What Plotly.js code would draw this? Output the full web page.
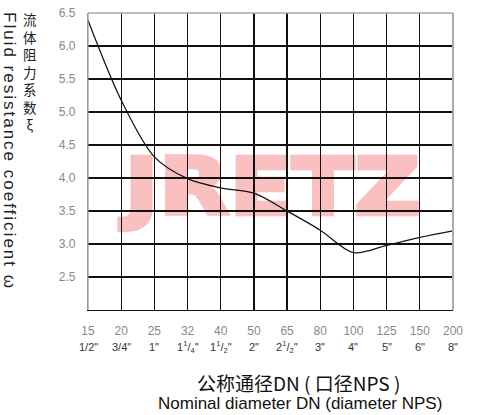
<!DOCTYPE html>
<html>
<head>
<meta charset="utf-8">
<script src="https://cdn.plot.ly/plotly-3.0.1.min.js"></script>
<style>
  html, body { margin: 0; padding: 0; background: #fff; }
  #wrap { position: relative; width: 486px; height: 415px; overflow: hidden; }
  #wm { position: absolute; left: 273px; top: 187px; transform: translate(-50%, -50%) scale(0.98, 0.86);
        font-family: "DejaVu Sans", sans-serif; font-weight: bold; font-size: 92px; line-height: 1;
        color: rgb(250,192,192); -webkit-text-stroke: 5px rgb(250,192,192);
        white-space: nowrap; letter-spacing: 1px; }
  #chart { position: absolute; left: 0; top: 0; width: 486px; height: 415px; }
</style>
</head>
<body>
<div id="wrap">
  <div id="wm">JRETZ</div>
  <div id="chart"></div>
</div>
<script>
// Categories (DN) and NPS labels
const dnLabels = ["15","20","25","32","40","50","65","80","100","125","150","200"];
const npsLabels = ["1/2\"","3/4\"","1\"","1<sup>1</sup>/<sub>4</sub>\"","1<sup>1</sup>/<sub>2</sub>\"","2\"","2<sup>1</sup>/<sub>2</sub>\"","3\"","4\"","5\"","6\"","8\""];
// Fluid resistance coefficient at each DN
const xi = [6.39, 5.18, 4.32, 3.99, 3.85, 3.77, 3.50, 3.21, 2.87, 2.98, 3.10, 3.20];
const yTicks = [2.5, 3.0, 3.5, 4.0, 4.5, 5.0, 5.5, 6.0, 6.5];
const yTitleZh = "流体阻力系数ξ";
const yTitleEn = "Fluid resistance coefficient ω";
const xTitleZh = "公称通径DN ( 口径NPS )";
const xTitleEn = "Nominal diameter DN (diameter NPS)";

const idx = dnLabels.map((_, i) => i);
const W = 486, H = 415, ML = 88, MR = 33, MT = 13, MB = 105;
const pw = W - ML - MR, ph = H - MT - MB;
const px2x = p => (p - ML) / pw;
const py2y = p => (H - MB - p) / ph;

const font = "Liberation Sans, Arial, sans-serif";

const annotations = [];
npsLabels.forEach((t, i) => {
  annotations.push({ x: idx[i], xref: "x", y: py2y(347), yref: "paper", text: t, showarrow: false,
    xanchor: "center", yanchor: "middle", font: { family: font, size: 11, color: "#333" } });
});
annotations.push({ x: px2x(30), xref: "paper", y: py2y(71), yref: "paper", text: Array.from(yTitleZh).join("<br>"), showarrow: false,
  xanchor: "center", yanchor: "middle", font: { family: "Noto Sans CJK SC, sans-serif", size: 13.5, color: "#222" } });
annotations.push({ x: px2x(10), xref: "paper", y: py2y(151), yref: "paper", text: yTitleEn, textangle: 90, showarrow: false,
  xanchor: "center", yanchor: "middle", font: { family: font, size: 17, color: "#222" } });
annotations.push({ x: px2x(298), xref: "paper", y: py2y(382), yref: "paper", text: xTitleZh, showarrow: false,
  xanchor: "center", yanchor: "middle", font: { family: "Noto Sans CJK SC, sans-serif", size: 19, color: "#111" } });
annotations.push({ x: px2x(300), xref: "paper", y: py2y(403), yref: "paper", text: xTitleEn, showarrow: false,
  xanchor: "center", yanchor: "middle", font: { family: font, size: 17, color: "#111" } });

const trace = {
  x: idx, y: xi, type: "scatter", mode: "lines",
  line: { color: "#111", width: 1.2, shape: "spline", smoothing: 0.9 },
  hoverinfo: "skip"
};

const layout = {
  width: W, height: H,
  margin: { l: ML, r: MR, t: MT, b: MB, pad: 0 },
  paper_bgcolor: "rgba(0,0,0,0)", plot_bgcolor: "rgba(0,0,0,0)",
  showlegend: false,
  xaxis: {
    range: [0, 11], tickvals: idx, ticktext: dnLabels, showgrid: true, gridcolor: "#111", gridwidth: 1.2,
    zeroline: false, showline: true, linecolor: "#111", linewidth: 1.2, ticks: "", ticklabelstandoff: 9,
    tickfont: { family: font, size: 12, color: "#888" }, fixedrange: true
  },
  yaxis: {
    range: [2, 6.5], tickvals: yTicks, ticktext: yTicks.map(v => v.toFixed(1)), showgrid: true, gridcolor: "#111", gridwidth: 1.2,
    zeroline: false, showline: true, linecolor: "#999", linewidth: 1.2, ticks: "", ticklabelstandoff: 9,
    tickfont: { family: font, size: 12, color: "#888" }, fixedrange: true
  },
  shapes: [
    { type: "line", xref: "paper", yref: "paper", x0: 0, x1: 1, y0: 1, y1: 1, line: { color: "#aaa", width: 1.5 } },
    { type: "line", xref: "paper", yref: "paper", x0: 1, x1: 1, y0: 0, y1: 1, line: { color: "#aaa", width: 2 } },
    { type: "line", xref: "paper", yref: "paper", x0: 0, x1: 0, y0: 0, y1: 1, line: { color: "#999", width: 1.2 } }
  ],
  annotations: annotations
};

Plotly.newPlot("chart", [trace], layout, { displayModeBar: false, staticPlot: true }).then(gd => {
  // widen the rotated English title's letter spacing to match the reference
  gd.querySelectorAll(".annotation-text").forEach(t => {
    if (t.textContent === yTitleEn) t.style.letterSpacing = "2px";
  });
});
</script>
</body>
</html>
